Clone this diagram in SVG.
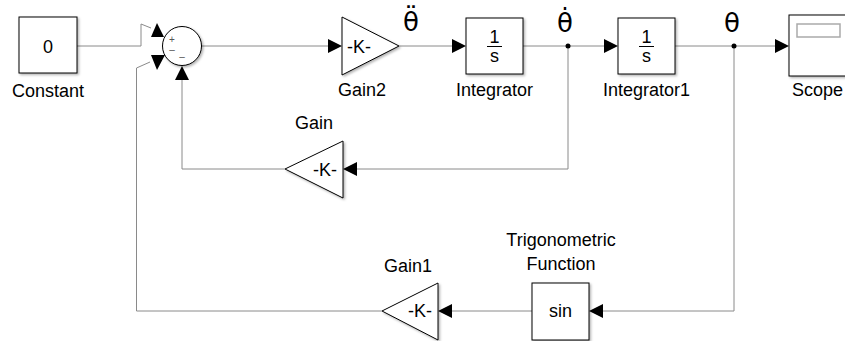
<svg xmlns="http://www.w3.org/2000/svg" width="845" height="341" viewBox="0 0 845 341">
<style>
.blk{fill:#fff;stroke:#000;stroke-width:1;filter:url(#sh)}
.ln{fill:none;stroke:#8a8a8a;stroke-width:1}
.ah{fill:#000;stroke:none}
.t{font-family:"Liberation Sans",Arial,sans-serif;font-size:18px;fill:#000;text-anchor:middle}
.g{font-family:"DejaVu Sans",sans-serif;font-size:26px;fill:#000;text-anchor:middle}
.s{font-family:"Liberation Sans",Arial,sans-serif;font-size:10px;fill:#555;text-anchor:middle}
</style>
<defs>
<filter id="sh" x="-10%" y="-10%" width="130%" height="130%">
<feDropShadow dx="1.5" dy="1.5" stdDeviation="0.8" flood-color="#000" flood-opacity="0.3"/>
</filter>
</defs>
<rect width="845" height="341" fill="#fff"/>
<g id="connectors">
<path class="ln" d="M77,46 H141 V24 L151,28"/>
<path class="ln" d="M382,311 H136.5 V68 L150,62"/>
<path class="ln" d="M201.5,46 H328"/>
<path class="ln" d="M399,46 H452"/>
<path class="ln" d="M523,46 H604"/>
<path class="ln" d="M675,46 H775"/>
<path class="ln" d="M568,46 V169 H357"/>
<path class="ln" d="M285,169 H182 V80"/>
<path class="ln" d="M734,46 V311 H603"/>
<path class="ln" d="M532,311 H452"/>
<polygon class="ah" points="157,23 151,37 164,37"/>
<polygon class="ah" points="151,55 165,55 157,70"/>
<polygon class="ah" points="182,66 175,80 189,80"/>
<polygon class="ah" points="342,46 328,39 328,53"/>
<polygon class="ah" points="466,46 452,39 452,53"/>
<polygon class="ah" points="618,46 604,39 604,53"/>
<polygon class="ah" points="789,46 775,39 775,53"/>
<polygon class="ah" points="343,169 357,162 357,176"/>
<polygon class="ah" points="589,311 603,304 603,318"/>
<polygon class="ah" points="438,311 452,304 452,318"/>
<circle cx="568" cy="46" r="2.5" fill="#000"/>
<circle cx="734" cy="46" r="2.5" fill="#000"/>
</g>
<g id="constant">
<rect class="blk" x="19" y="17" width="58" height="56"/>
<text class="t" x="48" y="52.5">0</text>
<text class="t" x="48" y="97">Constant</text>
</g>
<g id="sum">
<circle class="blk" cx="182" cy="46" r="19.5"/>
<text class="s" x="172" y="43">+</text>
<text class="s" x="172" y="53">–</text>
<text class="s" x="182" y="60">–</text>
</g>
<g id="gain2">
<polygon class="blk" points="342,17 342,75 399,46"/>
<text class="t" x="359" y="52.5">-K-</text>
<text class="t" x="362" y="96">Gain2</text>
<text class="g" x="411" y="31">θ̈</text>
</g>
<g id="integrator">
<rect class="blk" x="466" y="18" width="57" height="56"/>
<text class="t" x="494.5" y="43">1</text>
<line x1="487" y1="46.5" x2="502" y2="46.5" stroke="#000" stroke-width="1"/>
<text class="t" x="494.5" y="62">s</text>
<text class="t" x="494.5" y="96">Integrator</text>
<text class="g" x="565" y="32">θ̇</text>
</g>
<g id="integrator1">
<rect class="blk" x="618" y="18" width="57" height="56"/>
<text class="t" x="646.5" y="43">1</text>
<line x1="639" y1="46.5" x2="654" y2="46.5" stroke="#000" stroke-width="1"/>
<text class="t" x="646.5" y="62">s</text>
<text class="t" x="646.5" y="96">Integrator1</text>
<text class="g" x="732" y="32">θ</text>
</g>
<g id="scope">
<rect class="blk" x="789" y="15" width="60" height="61"/>
<rect x="797" y="24" width="43" height="13" fill="#fff" stroke="#aaa" stroke-width="1.5"/>
<text class="t" x="792" y="96" style="text-anchor:start">Scope</text>
</g>
<g id="gain">
<polygon class="blk" points="343,141 343,198 285,169"/>
<text class="t" x="325" y="176">-K-</text>
<text class="t" x="314" y="129">Gain</text>
</g>
<g id="trig">
<rect class="blk" x="532" y="283" width="57" height="57"/>
<text class="t" x="560.5" y="317">sin</text>
<text class="t" x="561" y="246">Trigonometric</text>
<text class="t" x="561" y="270">Function</text>
</g>
<g id="gain1">
<polygon class="blk" points="438,283 438,340 382,311"/>
<text class="t" x="420" y="317">-K-</text>
<text class="t" x="408" y="272">Gain1</text>
</g>
</svg>
